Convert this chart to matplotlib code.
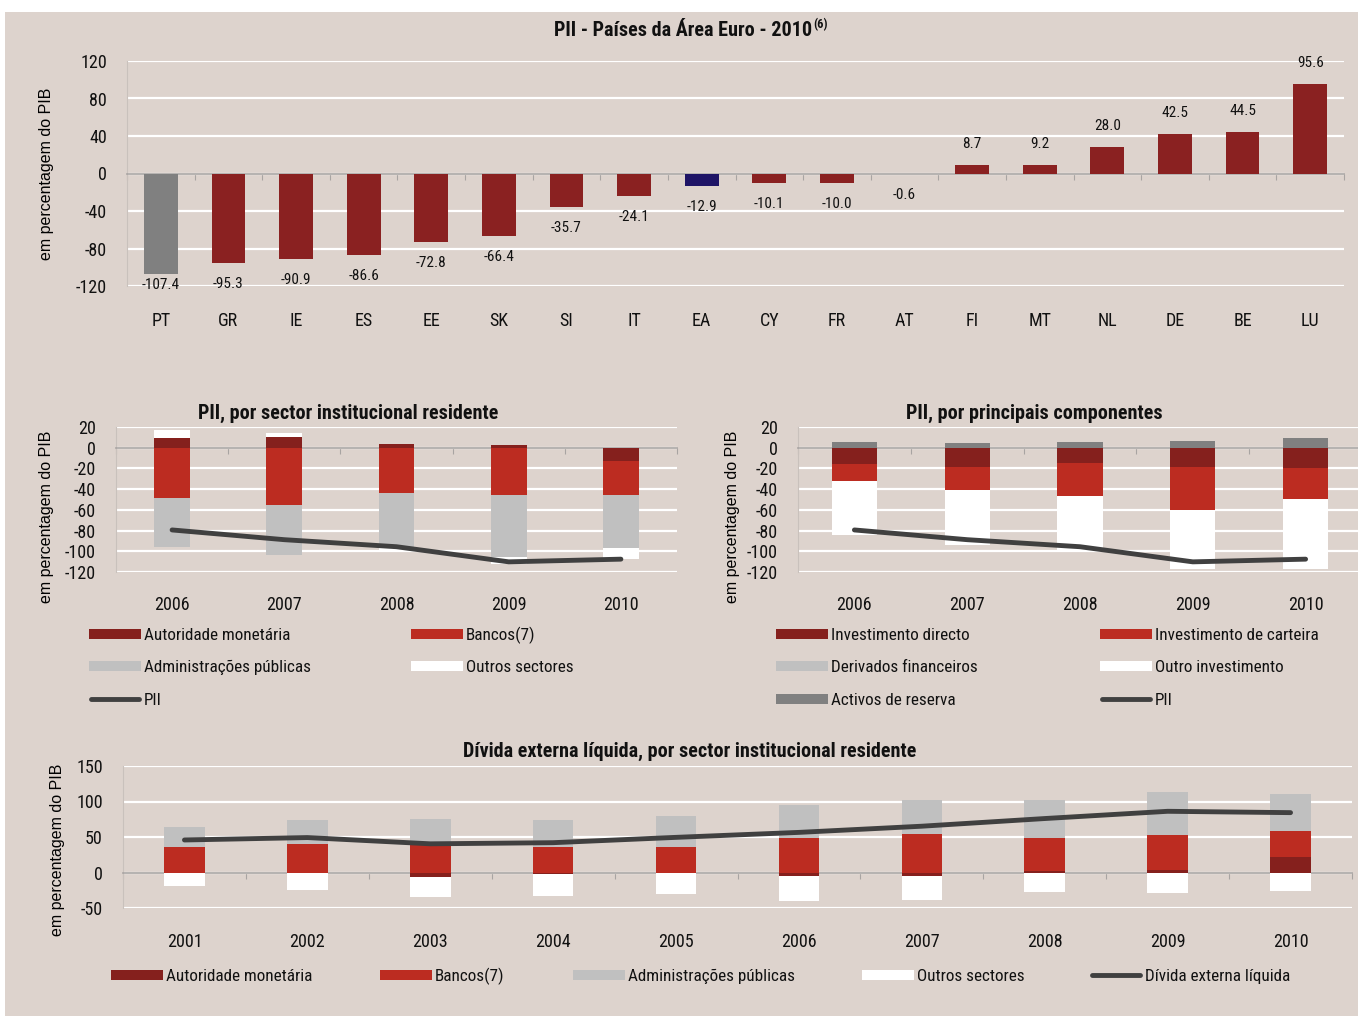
import matplotlib
matplotlib.use("Agg")
import matplotlib.pyplot as plt
from matplotlib import font_manager
import numpy as np
from matplotlib.patches import Rectangle
from matplotlib.lines import Line2D

# ---------------- data ----------------
countries = ["PT", "GR", "IE", "ES", "EE", "SK", "SI", "IT", "EA", "CY", "FR", "AT",
             "FI", "MT", "NL", "DE", "BE", "LU"]
pii_2010 = [-107.4, -95.3, -90.9, -86.6, -72.8, -66.4, -35.7, -24.1, -12.9, -10.1, -10.0, -0.6,
            8.7, 9.2, 28.0, 42.5, 44.5, 95.6]

years_mid = ["2006", "2007", "2008", "2009", "2010"]
sec_autoridade = [9.7, 10.0, 3.2, 2.6, -13.2]
sec_bancos = [-49.0, -55.2, -43.9, -46.1, -32.9]
sec_admin = [-47.0, -48.0, -51.9, -59.4, -51.0]
sec_outros = [7.3, 4.2, -2.6, -7.1, -10.6]
pii_line = [-79.4, -88.8, -95.6, -110.2, -107.6]

comp_directo = [-16.1, -18.7, -14.8, -19.0, -20.0]
comp_carteira = [-16.2, -22.3, -32.0, -41.6, -29.4]
comp_derivados = [0.0, 0.0, 0.0, 0.0, 0.0]
comp_outro = [-51.9, -52.9, -54.2, -56.4, -67.6]
comp_reserva = [5.2, 4.8, 5.5, 6.8, 9.4]

years_debt = ["2001", "2002", "2003", "2004", "2005", "2006", "2007", "2008", "2009", "2010"]
debt_autoridade = [0.0, 0.0, -6.5, -2.3, 0.0, -4.7, -5.1, 2.8, 3.3, 21.5]
debt_bancos = [36.4, 40.2, 38.8, 36.4, 35.5, 48.1, 54.7, 46.3, 49.5, 36.4]
debt_admin = [28.1, 33.2, 36.4, 37.9, 43.9, 47.2, 47.6, 53.2, 60.8, 52.8]
debt_outros = [-18.7, -24.8, -28.1, -30.9, -30.4, -35.0, -33.7, -27.1, -29.4, -26.6]
debt_line = [45.8, 49.2, 40.4, 42.0, 49.5, 56.5, 65.2, 76.0, 86.2, 84.3]

# ---------------- style ----------------
BG = "#DDD3CD"
DARKRED = "#85201D"
RED = "#BC2C21"
LGRAY = "#C0C0C0"
MGRAY = "#808080"
NAVY = "#1E1466"
LINEC = "#404040"
TXT = "#111111"

available = {f.name for f in font_manager.fontManager.ttflist}
narrow_choice = None
for cand in ["Liberation Sans Narrow", "Arial Narrow", "Roboto Condensed",
             "Open Sans Condensed", "DejaVu Sans Condensed", "Noto Sans Condensed"]:
    if cand in available:
        narrow_choice = cand
        break
if narrow_choice is None:
    narrow_choice = "Liberation Sans"
    SF = 0.9
else:
    SF = 1.0
NARROW = [narrow_choice, "DejaVu Sans"]
REG = ["Liberation Sans", "DejaVu Sans"]

plt.rcParams["font.family"] = NARROW
plt.rcParams["text.color"] = TXT

W, H = 1358, 1016
fig = plt.figure(figsize=(W / 100, H / 100), dpi=100, facecolor="white")
fig.add_artist(Rectangle((5 / W, 0), 1, 1 - 12 / H, transform=fig.transFigure,
                         facecolor=BG, edgecolor="none", zorder=-10))


def add_ax(l, t, r, b):
    ax = fig.add_axes([l / W, 1 - b / H, (r - l) / W, (b - t) / H])
    ax.set_facecolor("none")
    return ax


def style_ax(ax, n, ylim, yticks, xpad):
    ax.set_xlim(-0.5, n - 0.5)
    ax.set_ylim(*ylim)
    ax.set_yticks(yticks)
    ax.set_yticklabels([str(v) for v in yticks])
    ax.tick_params(axis="y", length=0, labelsize=13 * SF, pad=14.5, colors=TXT)
    ax.set_xticks(np.arange(n), minor=True)
    ax.set_xticks(np.arange(-0.5, n, 1.0), minor=False)
    for s in ("right", "bottom"):
        ax.spines[s].set_visible(False)
    ax.spines["left"].set_color("#C9C1BC")
    ax.spines["top"].set_position(("data", 0))
    ax.spines["top"].set_color("#A8A4A2")
    ax.spines["top"].set_linewidth(1.2)
    ax.tick_params(axis="x", which="major", top=True, bottom=False, direction="in",
                   length=4, color="#A8A4A2", labeltop=False, labelbottom=False)
    ax.tick_params(axis="x", which="minor", top=False, bottom=True, length=0,
                   labelbottom=True, labelsize=13 * SF, pad=xpad, colors=TXT)
    ax.grid(axis="y", color="white", linewidth=1.6, zorder=0)
    ax.set_axisbelow(True)


def stack(ax, x, series, colors, width):
    pos = np.zeros(len(x))
    neg = np.zeros(len(x))
    for vals, c in zip(series, colors):
        v = np.array(vals, dtype=float)
        bottom = np.where(v >= 0, pos, neg)
        ax.bar(x, v, width=width, bottom=bottom, color=c, edgecolor="none", zorder=3)
        pos = pos + np.where(v >= 0, v, 0)
        neg = neg + np.where(v < 0, v, 0)


def ylab(ax, x_anchor_px, l, r, yfrac):
    ax.set_ylabel("em percentagem do PIB", family=REG, fontsize=11.5)
    ax.yaxis.set_label_coords((x_anchor_px - l) / (r - l), yfrac)


# ---------------- top chart ----------------
ax1 = add_ax(127, 61, 1344, 286)
n = len(countries)
style_ax(ax1, n, (-120, 120), [120, 80, 40, 0, -40, -80, -120], 19)
ax1.set_xticklabels(countries, minor=True)
colors_top = [MGRAY if c == "PT" else (NAVY if c == "EA" else "#8A2121") for c in countries]
x1 = np.arange(n)
ax1.bar(x1, pii_2010, width=0.5, color=colors_top, edgecolor="none", zorder=3)
for xi, v in zip(x1, pii_2010):
    if v < 0:
        y = max(v - 22.4, -119.0)
    else:
        y = v + 22.4
    ax1.text(xi, y, f"{v:.1f}", ha="center", va="center", fontsize=11 * SF, zorder=4)
t1 = fig.text(683 / W, 1 - 30 / H, "PII - Países da Área Euro - 2010", ha="center", va="center",
              fontsize=14.5 * SF, fontweight="bold")
fig.canvas.draw()
bb = t1.get_window_extent()
fig.text((bb.x1 + 1) / W, (bb.y1 + 3) / H, "(6)", ha="left", va="top", fontsize=9 * SF,
         fontweight="bold")
ylab(ax1, 54, 127, 1344, 0.5)

# ---------------- middle left ----------------
nm = len(years_mid)
xm = np.arange(nm)
ax2 = add_ax(116, 427, 677, 572)
style_ax(ax2, nm, (-120, 20), [20, 0, -20, -40, -60, -80, -100, -120], 17.5)
ax2.set_xticklabels(years_mid, minor=True)
stack(ax2, xm, [sec_autoridade, sec_bancos, sec_admin, sec_outros],
      [DARKRED, RED, LGRAY, "white"], 0.32)
ax2.plot(xm, pii_line, color=LINEC, linewidth=3.5, solid_capstyle="round", zorder=5)
fig.text(348 / W, 1 - 413 / H, "PII, por sector institucional residente", ha="center",
         va="center", fontsize=14.5 * SF, fontweight="bold")
ylab(ax2, 54, 116, 677, 0.38)

# ---------------- middle right ----------------
ax3 = add_ax(798, 427, 1362, 572)
style_ax(ax3, nm, (-120, 20), [20, 0, -20, -40, -60, -80, -100, -120], 17.5)
ax3.set_xticklabels(years_mid, minor=True)
stack(ax3, xm, [comp_directo, comp_carteira, comp_derivados, comp_outro, comp_reserva],
      [DARKRED, RED, LGRAY, "white", MGRAY], 0.4)
ax3.plot(xm, pii_line, color=LINEC, linewidth=3.5, solid_capstyle="round", zorder=5)
fig.text(1034 / W, 1 - 413 / H, "PII, por principais componentes", ha="center",
         va="center", fontsize=14.5 * SF, fontweight="bold")
ylab(ax3, 740, 798, 1362, 0.38)

# ---------------- bottom ----------------
nb = len(years_debt)
xb = np.arange(nb)
ax4 = add_ax(123, 766, 1352, 908)
style_ax(ax4, nb, (-50, 150), [150, 100, 50, 0, -50], 18)
ax4.set_xticklabels(years_debt, minor=True)
stack(ax4, xb, [debt_autoridade, debt_bancos, debt_admin, debt_outros],
      [DARKRED, RED, LGRAY, "white"], 0.33)
ax4.plot(xb, debt_line, color=LINEC, linewidth=3.5, solid_capstyle="round", zorder=5)
fig.text(690 / W, 1 - 751 / H, "Dívida externa líquida, por sector institucional residente",
         ha="center", va="center", fontsize=14.5 * SF, fontweight="bold")
ylab(ax4, 65, 123, 1352, 0.41)


# ---------------- legends ----------------
def leg_item(x, y, text, color, kind="rect"):
    if kind == "rect":
        fig.add_artist(Rectangle((x / W, 1 - (y + 5) / H), 52 / W, 10 / H,
                                 transform=fig.transFigure, facecolor=color, edgecolor="none"))
    else:
        fig.add_artist(Line2D([(x + 2) / W, (x + 50) / W], [1 - y / H, 1 - y / H],
                              transform=fig.transFigure, color=color, linewidth=3.5,
                              solid_capstyle="round"))
    fig.text((x + 55) / W, 1 - (y + 1.5) / H, text, ha="left", va="center", fontsize=12.3 * SF)


leg_item(89, 634, "Autoridade monetária", DARKRED)
leg_item(411, 634, "Bancos(7)", RED)
leg_item(89, 666, "Administrações públicas", LGRAY)
leg_item(411, 666, "Outros sectores", "white")
leg_item(89, 699, "PII", LINEC, "line")

leg_item(776, 634, "Investimento directo", DARKRED)
leg_item(1100, 634, "Investimento de carteira", RED)
leg_item(776, 666, "Derivados financeiros", LGRAY)
leg_item(1100, 666, "Outro investimento", "white")
leg_item(776, 699, "Activos de reserva", MGRAY)
leg_item(1100, 699, "PII", LINEC, "line")

leg_item(111, 975, "Autoridade monetária", DARKRED)
leg_item(380, 975, "Bancos(7)", RED)
leg_item(573, 975, "Administrações públicas", LGRAY)
leg_item(862, 975, "Outros sectores", "white")
leg_item(1090, 975, "Dívida externa líquida", LINEC, "line")

fig.savefig("out.png", dpi=100, facecolor=fig.get_facecolor())
